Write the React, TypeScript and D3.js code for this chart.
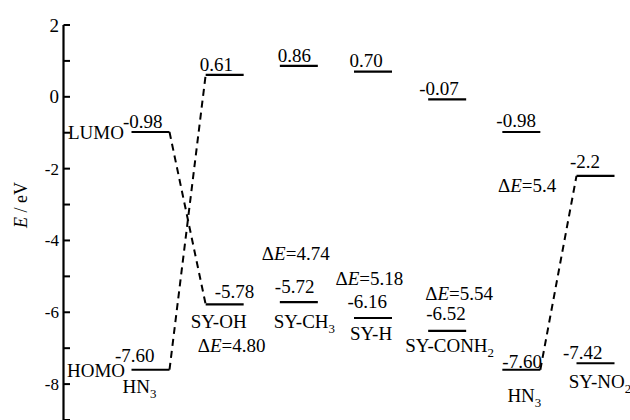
import React from "react";
import * as d3 from "d3";

// ---- data ----
const categories = ["HN3", "SY-OH", "SY-CH3", "SY-H", "SY-CONH2", "HN3", "SY-NO2"];
const lumo = [-0.98, 0.61, 0.86, 0.7, -0.07, -0.98, -2.2];
const homo = [-7.6, -5.78, -5.72, -6.16, -6.52, -7.6, -7.42];
const lumoLabels = ["-0.98", "0.61", "0.86", "0.70", "-0.07", "-0.98", "-2.2"];
const homoLabels = ["-7.60", "-5.78", "-5.72", "-6.16", "-6.52", "-7.60", "-7.42"];
const gapLabels = [null, "4.80", "4.74", "5.18", "5.54", null, "5.4"];
const yTicks = [2, 1, 0, -1, -2, -3, -4, -5, -6, -7, -8, -9];
const yTickLabels = [2, 0, -2, -4, -6, -8];
// transitions drawn as dashed lines: [fromIndex, fromLevel, toIndex, toLevel]
const transitions: [number, "lumo" | "homo", number, "homo" | "lumo"][] = [
  [0, "lumo", 1, "homo"],
  [0, "homo", 1, "lumo"],
  [5, "homo", 6, "lumo"],
];

// ---- label layout (offsets relative to level line) ----
const lumoLabelOffset = [[-27.5, -4], [-25, -4], [-21, -4], [-23.5, -5], [-28, -4], [-25, -5], [-25.5, -8]];
const homoLabelOffset = [[-35.5, -8], [-10, -6], [-24, -9], [-25.5, -10], [-21, -11], [-19, -2], [-32.5, -4]];
// category name: [dx from centre (middle anchor), dy from homo line]
const catOffset = [[-11, 23], [-6, 24], [5.5, 26], [-2, 22], [2.5, 21], [3, 32], [4.5, 25]];
// delta E labels: [dx start from centre, dy from the given level line]
const gapOffset = [null, [-27, 48], [-37, -42], [-37.5, -33], [-22, -31], null, [-97.5, 16]];
const gapRef: ("homo" | "lumo" | null)[] = [null, "homo", "homo", "homo", "homo", null, "lumo"];

const W = 630, H = 420;
const FONT = "'Liberation Serif', 'Times New Roman', serif";
const FS = 19;

function Sub({ base, fs }: { base: string; fs: number }) {
  const m = base.match(/^(.*?)(\d)$/);
  if (!m) return <>{base}</>;
  return (
    <>
      {m[1]}
      <tspan fontSize={fs * 0.68} dy={5}>{m[2]}</tspan>
    </>
  );
}

export default function App() {
  const y = d3.scaleLinear().domain([-9, 2]).range([420, 25]);
  const x = d3.scaleLinear().domain([0, categories.length - 1]).range([150.5, 595.5]);
  const hw = 19;
  const axisX = 63.5;
  const lvl = (i: number, l: "lumo" | "homo") => (l === "lumo" ? lumo[i] : homo[i]);

  return (
    <svg width={W} height={H} style={{ position: "absolute", left: 0, top: 0, background: "#fff" }} fontFamily={FONT}>
      {/* axis */}
      <line x1={axisX} x2={axisX} y1={y(2)} y2={y(-9)} stroke="#000" strokeWidth={2.2} />
      {yTicks.map((t) => (
        <line key={t} x1={axisX} x2={axisX + 6.5} y1={y(t)} y2={y(t)} stroke="#000" strokeWidth={2} />
      ))}
      {yTickLabels.map((t) => (
        <text key={t} x={59} y={y(t)} dy="0.35em" textAnchor="end" fontSize={t >= 0 ? 19 : 17}>
          {t}
        </text>
      ))}
      <text transform={`translate(27,205) rotate(-90)`} textAnchor="middle" fontSize={18}>
        <tspan fontStyle="italic">E</tspan> / eV
      </text>

      {/* LUMO / HOMO */}
      <text x={68} y={y(lumo[0]) + 7} fontSize={FS}>LUMO</text>
      <text x={67} y={y(homo[0]) + 7} fontSize={FS}>HOMO</text>

      {/* transitions */}
      {transitions.map(([a, la, b, lb], k) => (
        <line
          key={k}
          x1={x(a) + hw}
          y1={y(lvl(a, la))}
          x2={x(b) - hw}
          y2={y(lvl(b, lb))}
          stroke="#000"
          strokeWidth={2}
          strokeDasharray="7,5"
        />
      ))}

      {categories.map((c, i) => (
        <g key={i}>
          <line x1={x(i) - hw} x2={x(i) + hw} y1={y(lumo[i])} y2={y(lumo[i])} stroke="#000" strokeWidth={2.2} />
          <line x1={x(i) - hw} x2={x(i) + hw} y1={y(homo[i])} y2={y(homo[i])} stroke="#000" strokeWidth={2.2} />
          <text x={x(i) + lumoLabelOffset[i][0]} y={y(lumo[i]) + lumoLabelOffset[i][1]} fontSize={FS}>
            {lumoLabels[i]}
          </text>
          <text x={x(i) + homoLabelOffset[i][0]} y={y(homo[i]) + homoLabelOffset[i][1]} fontSize={FS}>
            {homoLabels[i]}
          </text>
          <text x={x(i) + catOffset[i][0]} y={y(homo[i]) + catOffset[i][1]} fontSize={FS} textAnchor="middle">
            <Sub base={c} fs={FS} />
          </text>
          {gapLabels[i] && gapOffset[i] && gapRef[i] && (
            <text x={x(i) + gapOffset[i]![0]} y={y(lvl(i, gapRef[i]!)) + gapOffset[i]![1]} fontSize={FS}>
              Δ<tspan fontStyle="italic">E</tspan>={gapLabels[i]}
            </text>
          )}
        </g>
      ))}
    </svg>
  );
}
